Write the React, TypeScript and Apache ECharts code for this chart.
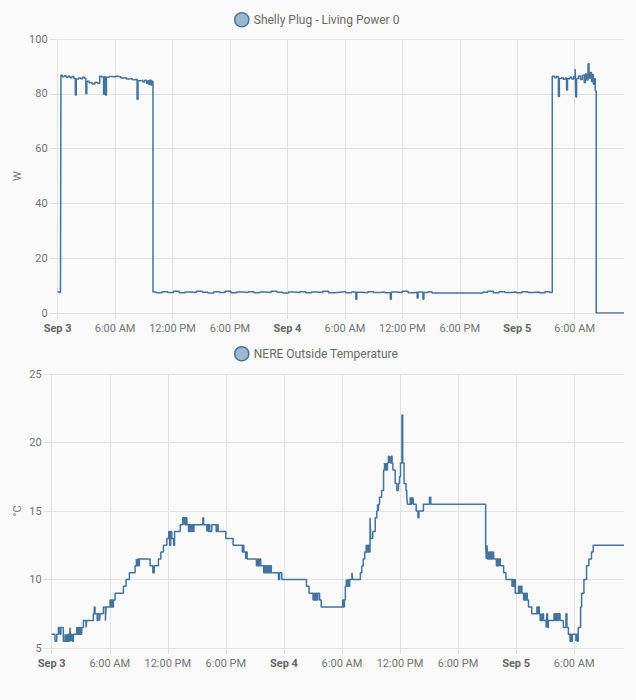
import React, { useEffect, useRef } from "react";
import * as echarts from "echarts";

// x values are hours since Sep 3, 00:00
const X_MAX = 59.15;
const xTickLabels = [
  "Sep 3", "6:00 AM", "12:00 PM", "6:00 PM",
  "Sep 4", "6:00 AM", "12:00 PM", "6:00 PM",
  "Sep 5", "6:00 AM",
];

const powerName = "Shelly Plug - Living Power 0";
const tempName = "NERE Outside Temperature";

// Power (W)
const powerSep3Morning: [number, number][] = [
  [0, 7.8], [0.15, 7.5], [0.3, 7.9], [0.35, 86.8], [0.5, 86.2], [0.7, 86.6], [0.9, 86.0],
  [1.1, 86.4], [1.3, 85.9], [1.5, 86.3], [1.7, 85.6], [1.85, 79.6], [1.95, 85.4], [2.2, 85.8],
  [2.4, 85.5], [2.6, 86.0], [2.8, 85.7], [2.95, 80.0], [3.05, 84.6], [3.3, 84.0], [3.6, 83.6],
  [3.9, 84.1], [4.2, 83.8], [4.4, 86.4], [4.6, 86.1], [4.8, 79.8], [4.9, 86.2], [5.0, 79.6],
  [5.1, 86.0], [5.4, 86.3], [5.7, 86.1], [6.0, 86.4], [6.3, 86.2], [6.6, 85.8], [6.9, 85.9],
  [7.2, 85.4], [7.5, 85.6], [7.8, 85.1], [8.1, 85.3], [8.3, 78.0], [8.4, 84.8], [8.7, 85.0],
  [8.9, 84.3], [9.1, 84.9], [9.3, 83.8], [9.45, 84.8], [9.55, 83.4], [9.65, 85.0], [9.75, 83.2],
  [9.85, 84.6],
];
const powerStandby1: [number, number][] = [
  [9.96, 7.7], [10.3, 7.4], [10.9, 7.8], [11.5, 7.5], [12.1, 7.9], [12.7, 7.4], [13.3, 7.7],
  [13.9, 7.5], [14.5, 7.9], [15.1, 7.6], [15.7, 7.3], [16.3, 7.8], [16.9, 7.5], [17.5, 7.9],
  [18.1, 7.4], [18.7, 7.7], [19.3, 7.5], [19.9, 7.8], [20.5, 7.4], [21.1, 7.7], [21.7, 7.5],
  [22.3, 7.9], [22.9, 7.6], [23.5, 7.3], [24.1, 7.7], [24.7, 7.5], [25.3, 7.8], [25.9, 7.4],
  [26.5, 7.7], [27.1, 7.5], [27.7, 7.9], [28.3, 7.4], [28.9, 7.6], [29.5, 7.8], [30.1, 7.4],
  [30.7, 7.7], [31.15, 5.0], [31.25, 7.6], [31.8, 7.4], [32.4, 7.8], [33.0, 7.5], [33.6, 7.7],
  [34.2, 7.4], [34.75, 5.0], [34.85, 7.7], [35.4, 7.5], [36.0, 7.9], [36.6, 7.4], [37.2, 7.6],
  [37.55, 5.5], [37.65, 7.7], [38.15, 5.0], [38.25, 7.5], [38.7, 7.8], [39.1, 7.3],
];
const powerStandby2: [number, number][] = [
  [44.4, 7.6], [44.9, 7.9], [45.5, 7.4], [46.1, 7.8], [46.7, 7.5], [47.3, 7.7], [47.9, 7.4],
  [48.5, 7.8], [49.1, 7.5], [49.7, 7.7], [50.3, 7.4], [50.9, 7.8], [51.4, 7.5],
];
const powerSep5Morning: [number, number][] = [
  [51.66, 86.4], [51.9, 85.9], [52.1, 86.3], [52.3, 79.0], [52.4, 85.6], [52.6, 85.9],
  [52.8, 85.3], [53.0, 85.8], [53.15, 81.4], [53.25, 85.5], [53.5, 86.0], [53.7, 85.4],
  [53.9, 86.3], [54.05, 89.0], [54.12, 78.8], [54.2, 85.6], [54.4, 86.5], [54.6, 85.2],
  [54.8, 86.8], [55.0, 84.0], [55.1, 87.2], [55.25, 85.0], [55.4, 91.0], [55.5, 85.8],
  [55.65, 87.8], [55.75, 84.5], [55.85, 87.0], [55.95, 83.5], [56.05, 85.5], [56.15, 81.0],
  [56.25, 0], [X_MAX, 0],
];

// Temperature (°C)
const tempSep3: [number, number][] = [
  [0, 6], [0.34, 5.5], [0.52, 6], [0.69, 6.5], [0.85, 6], [0.95, 6.5], [1.2, 5.5], [1.38, 6],
  [1.45, 5.5], [1.55, 6], [1.62, 5.5], [1.7, 6], [1.78, 5.5], [1.86, 6], [1.9, 6.5], [1.95, 5.5],
  [2.02, 6], [2.1, 5.5], [2.24, 6], [2.59, 6.5], [2.67, 6], [2.75, 6.5], [2.83, 6], [2.91, 6.5],
  [3.0, 6], [3.1, 6.5], [3.28, 7], [3.55, 6.5], [3.62, 7], [4.31, 7.5], [4.4, 8], [4.48, 7.5],
  [4.7, 7], [4.78, 7.5], [4.95, 7], [5.0, 7.5], [5.34, 8], [5.55, 7], [5.62, 8], [6.03, 8.5],
  [6.12, 8], [6.2, 8.5], [6.3, 8], [6.38, 8.5], [6.55, 9], [7.41, 9.5], [7.69, 10], [8.03, 10.5],
  [8.62, 11], [8.75, 11.5], [8.82, 11], [8.9, 11.5], [8.98, 11], [9.06, 11.5], [10.17, 11],
  [10.45, 10.5], [10.6, 11], [11.03, 11.5], [11.28, 12], [11.55, 12.5], [11.9, 13], [12.1, 13.5],
  [12.2, 12.5], [12.3, 13.5], [12.41, 13], [12.6, 12.5], [12.7, 13.5], [13.28, 14], [13.55, 14.5],
  [13.65, 14], [13.72, 14.5], [13.8, 14], [13.88, 14.5], [13.97, 14], [14.14, 13.5], [14.22, 14],
  [14.3, 13.5], [14.38, 14], [14.46, 13.5], [14.54, 14], [14.62, 13.5], [14.7, 14], [15.62, 14.5],
  [15.7, 14], [16.03, 13.5], [16.1, 14], [16.18, 13.5], [16.26, 14], [16.34, 13.5], [16.55, 14],
  [17.0, 13.5], [17.1, 14], [17.2, 13.5], [18.0, 13], [18.75, 12.5], [19.7, 12], [19.78, 12.5],
  [19.86, 12], [20.04, 11.5], [20.1, 12], [20.2, 11.5], [21.16, 11], [21.3, 11.5], [21.4, 11],
  [21.5, 11.5], [21.6, 11], [21.91, 10.5], [22.0, 11], [22.1, 10.5], [22.2, 11], [22.3, 10.5],
  [22.4, 11], [22.5, 10.5], [22.6, 11], [22.7, 10.5], [23.44, 10], [23.55, 10.5], [23.78, 10],
];
const tempSep4: [number, number][] = [
  [26.33, 9.5], [26.6, 9], [27.01, 8.5], [27.1, 9], [27.2, 8.5], [27.3, 9], [27.4, 8.5],
  [27.5, 9], [27.69, 8.5], [27.86, 8], [30.07, 8.5], [30.15, 8], [30.25, 8.5], [30.35, 9.5],
  [30.45, 10], [30.52, 9.5], [30.6, 10], [30.7, 9.5], [30.8, 10], [31.03, 10.5], [31.1, 10],
  [31.9, 10.5], [32.05, 11], [32.2, 11.5], [32.35, 12], [32.5, 12.5], [32.6, 12], [32.7, 12.5],
  [32.8, 12], [32.9, 14.5], [32.97, 13], [33.18, 13.5], [33.44, 14.5], [33.6, 15], [33.68, 15.5],
  [33.74, 15], [33.8, 15.5], [33.88, 16], [34.1, 16.5], [34.3, 18], [34.4, 18.5], [34.47, 18],
  [34.55, 18.5], [34.62, 18], [34.7, 18.5], [34.8, 19], [34.88, 18.5], [34.95, 19], [35.02, 18.5],
  [35.1, 19], [35.18, 18.5], [35.26, 18], [35.5, 17], [35.67, 16.5], [35.84, 17], [35.95, 17.5],
  [36.05, 18.5], [36.2, 22], [36.28, 18.5], [36.42, 17], [36.62, 16.5], [36.7, 16], [36.77, 15.5],
  [37.05, 16], [37.12, 15.5], [37.2, 16], [37.27, 15.5], [37.34, 16], [37.39, 15.5], [37.67, 15],
  [37.85, 14.5], [37.95, 15], [38.42, 15.5], [39.04, 16], [39.18, 15.5],
];
const tempSep5: [number, number][] = [
  [44.85, 12.5], [44.92, 11.5], [44.99, 12.5], [45.06, 11.5], [45.17, 12], [45.25, 11.5],
  [45.35, 12], [45.45, 11.5], [45.55, 12], [45.68, 11.5], [45.96, 11], [46.05, 11.5], [46.15, 11],
  [46.25, 11.5], [46.37, 11], [46.71, 10.5], [46.95, 10], [47.57, 9.5], [47.65, 10], [47.73, 9.5],
  [47.81, 10], [47.91, 9], [48.25, 9.5], [48.35, 9], [48.45, 9.5], [48.6, 9], [48.77, 8.5],
  [48.85, 9], [48.95, 8.5], [49.05, 9], [49.15, 8.5], [49.28, 8], [49.62, 7.5], [50.15, 8],
  [50.23, 7.5], [50.31, 8], [50.39, 7.5], [50.48, 7], [50.6, 7.5], [50.67, 7], [50.75, 7.5],
  [50.83, 7], [51.1, 6.5], [51.17, 7.5], [51.25, 6.5], [51.33, 7], [51.92, 7.5], [52.0, 7],
  [52.08, 7.5], [52.16, 7], [52.24, 7.5], [52.32, 7], [52.4, 7.5], [52.54, 7], [52.88, 6.5],
  [53.15, 7.5], [53.25, 6.5], [53.4, 6], [53.57, 5.5], [53.65, 6], [53.73, 5.5], [53.81, 6],
  [54.18, 5.5], [54.25, 6], [54.33, 5.5], [54.42, 6.5], [54.66, 8], [54.77, 9], [55.01, 10],
  [55.28, 11], [55.52, 11.5], [55.79, 12], [55.97, 12.5], [X_MAX, 12.5],
];

const LINE = "#44739e";
const GRID = "#e2e2e2";
const LABEL = "#737373";

function xAxisFor(gridIndex: number) {
  return {
    type: "value",
    gridIndex,
    min: 0,
    max: X_MAX,
    interval: 6,
    axisLine: { show: true, lineStyle: { color: GRID } },
    axisTick: { show: true, length: 6, lineStyle: { color: GRID } },
    splitLine: { show: true, showMaxLine: false, lineStyle: { color: GRID } },
    axisLabel: {
      showMaxLabel: false,
      margin: 10,
      color: LABEL,
      fontSize: 11,
      fontFamily: "Roboto",
      formatter: (v: number) => {
        const i = Math.round(v / 6);
        if (Math.abs(v - i * 6) > 0.01 || i >= xTickLabels.length) return "";
        const s = xTickLabels[i];
        return s.startsWith("Sep") ? `{b|${s}}` : s;
      },
      rich: {
        b: { fontWeight: "bold", fontSize: 11, color: "#666", fontFamily: "Roboto" },
      },
    },
  };
}

function yAxisFor(gridIndex: number, min: number, max: number, interval: number, name: string, nameGap: number) {
  return {
    type: "value",
    gridIndex,
    min,
    max,
    interval,
    name,
    nameLocation: "middle",
    nameRotate: 90,
    nameGap,
    nameMoveOverlap: false,
    nameTextStyle: { color: LABEL, fontSize: 11, fontFamily: "Roboto" },
    axisLine: { show: true, lineStyle: { color: GRID } },
    axisTick: { show: true, length: 8, lineStyle: { color: GRID } },
    splitLine: { show: true, lineStyle: { color: GRID } },
    axisLabel: { color: LABEL, fontSize: 11, margin: 10, fontFamily: "Roboto" },
  };
}

export default function App() {
  const ref = useRef<HTMLDivElement>(null);

  useEffect(() => {
    if (!ref.current) return;
    const chart = echarts.init(ref.current, null, { renderer: "svg" });
    const legendBase = {
      left: 229,
      icon: "circle",
      itemWidth: 14,
      itemHeight: 14,
      itemGap: 10,
      textStyle: { color: "#6a6a6a", fontSize: 12, fontFamily: "Roboto" },
      itemStyle: { color: "rgba(68,115,158,0.5)", borderColor: LINE, borderWidth: 1.5 },
    };
    chart.setOption({
      animation: false,
      backgroundColor: "#fafafa",
      textStyle: { fontFamily: "Roboto" },
      legend: [
        { ...legendBase, top: 7, data: [powerName] },
        { ...legendBase, top: 341, data: [tempName] },
      ],
      grid: [
        { left: 57.6, right: 12, top: 39, height: 274 },
        { left: 51.7, right: 12, top: 374, height: 274 },
      ],
      xAxis: [xAxisFor(0), xAxisFor(1)],
      yAxis: [
        yAxisFor(0, 0, 100, 20, "W", 35),
        yAxisFor(1, 5, 25, 5, "°C", 29),
      ],
      series: [
        {
          name: powerName,
          type: "line",
          xAxisIndex: 0,
          yAxisIndex: 0,
          step: "end",
          showSymbol: false,
          symbol: "none",
          lineStyle: { color: LINE, width: 1.5 },
          itemStyle: { color: LINE },
          data: [...powerSep3Morning, ...powerStandby1, ...powerStandby2, ...powerSep5Morning],
        },
        {
          name: tempName,
          type: "line",
          xAxisIndex: 1,
          yAxisIndex: 1,
          step: "end",
          showSymbol: false,
          symbol: "none",
          lineStyle: { color: LINE, width: 1.5 },
          itemStyle: { color: LINE },
          data: [...tempSep3, ...tempSep4, ...tempSep5],
        },
      ],
    });
    return () => chart.dispose();
  }, []);

  return (
    <div
      ref={ref}
      style={{ position: "fixed", left: 0, top: 0, width: 636, height: 700, background: "#fafafa" }}
    />
  );
}
